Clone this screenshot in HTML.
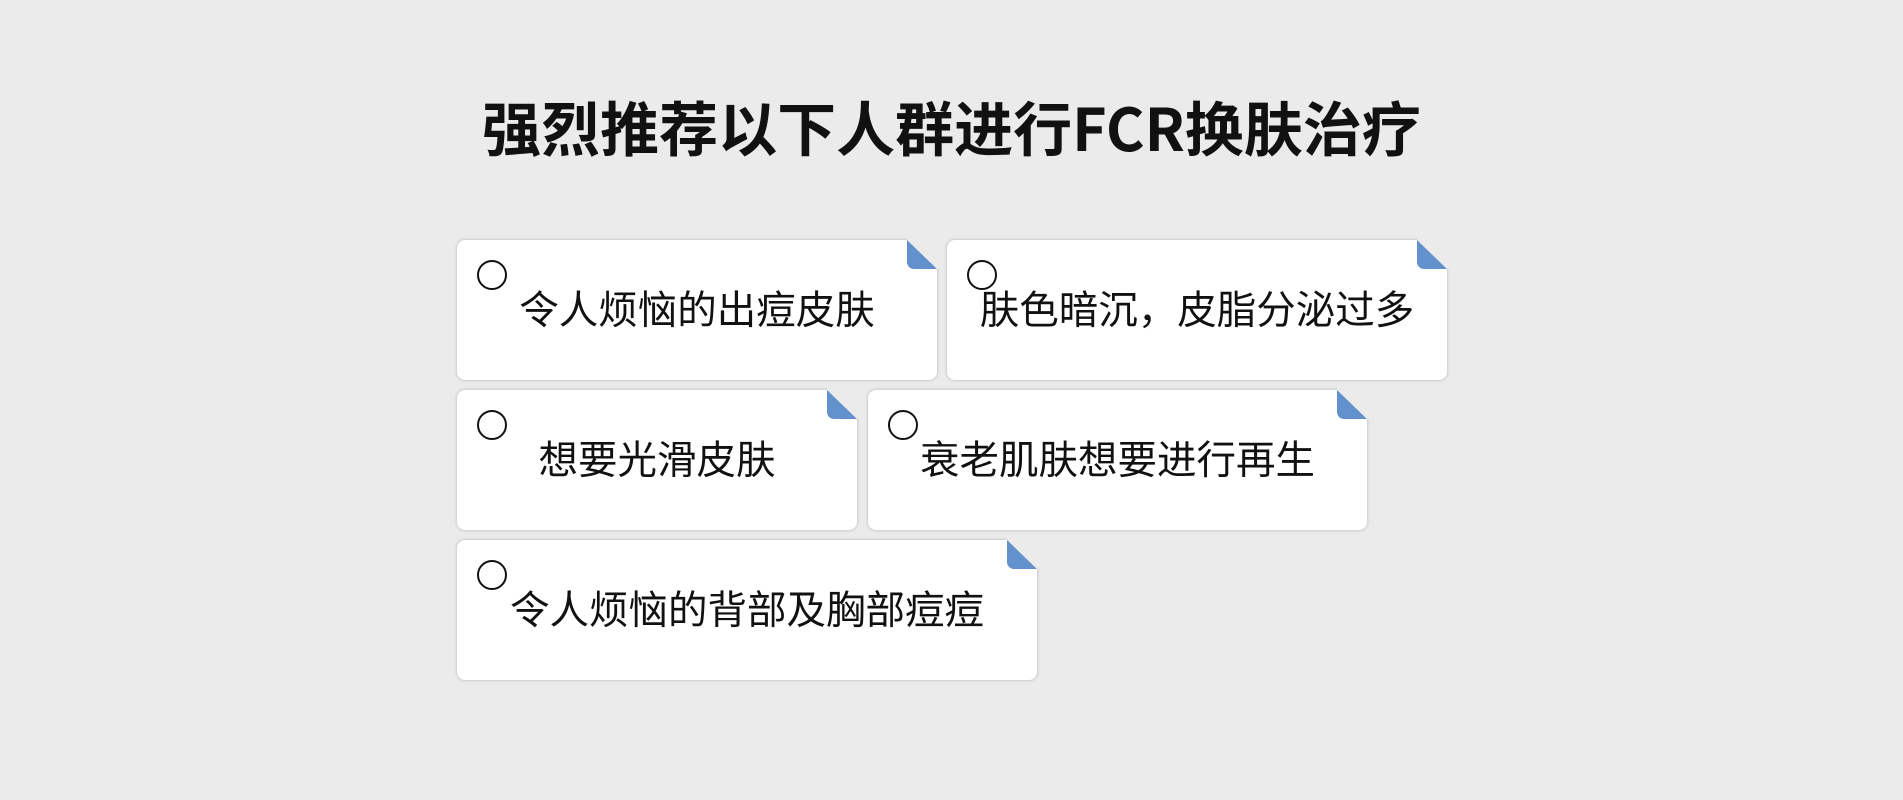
<!DOCTYPE html>
<html><head><meta charset="utf-8"><style>
body{margin:0;width:1903px;height:800px;background:#ebebeb;position:relative;overflow:hidden;font-family:"Noto Sans CJK SC","Liberation Sans",sans-serif;}
h1{position:absolute;left:0;width:1903px;top:88px;margin:0;text-align:center;font-size:59px;line-height:76px;font-weight:bold;color:#111;font-family:"Noto Sans CJK SC","Liberation Sans",sans-serif;}
.c{position:absolute;height:140px;background:#fff;border-radius:8px;box-shadow:0 0 3px rgba(0,0,0,0.25);clip-path:polygon(0 -5px,calc(100% - 30px) -5px,calc(100% - 30px) 0,100% 29px,calc(100% + 5px) 29px,calc(100% + 5px) calc(100% + 5px),-5px calc(100% + 5px),-5px -5px);}
.c .t{position:absolute;left:0;right:0;top:0;bottom:5px;display:flex;align-items:center;justify-content:center;font-size:39.5px;color:#111;}
.c .o{position:absolute;left:20px;top:20px;width:26px;height:26px;border:2px solid #111;border-radius:50%;}
.f{position:absolute;width:30px;height:29px;background:#6391cc;clip-path:polygon(0 0,100% 100%,0 100%);border-bottom-left-radius:7px;}
</style></head><body>
<h1>强烈推荐以下人群进行FCR换肤治疗</h1>
<div class="c" style="left:457px;top:240px;width:480px"><div class="o"></div><div class="t">令人烦恼的出痘皮肤</div></div>
<div class="f" style="left:907px;top:240px"></div>
<div class="c" style="left:947px;top:240px;width:500px"><div class="o"></div><div class="t">肤色暗沉，皮脂分泌过多</div></div>
<div class="f" style="left:1417px;top:240px"></div>
<div class="c" style="left:457px;top:390px;width:400px"><div class="o"></div><div class="t">想要光滑皮肤</div></div>
<div class="f" style="left:827px;top:390px"></div>
<div class="c" style="left:868px;top:390px;width:499px"><div class="o"></div><div class="t">衰老肌肤想要进行再生</div></div>
<div class="f" style="left:1337px;top:390px"></div>
<div class="c" style="left:457px;top:540px;width:580px"><div class="o"></div><div class="t">令人烦恼的背部及胸部痘痘</div></div>
<div class="f" style="left:1007px;top:540px"></div>
</body></html>
